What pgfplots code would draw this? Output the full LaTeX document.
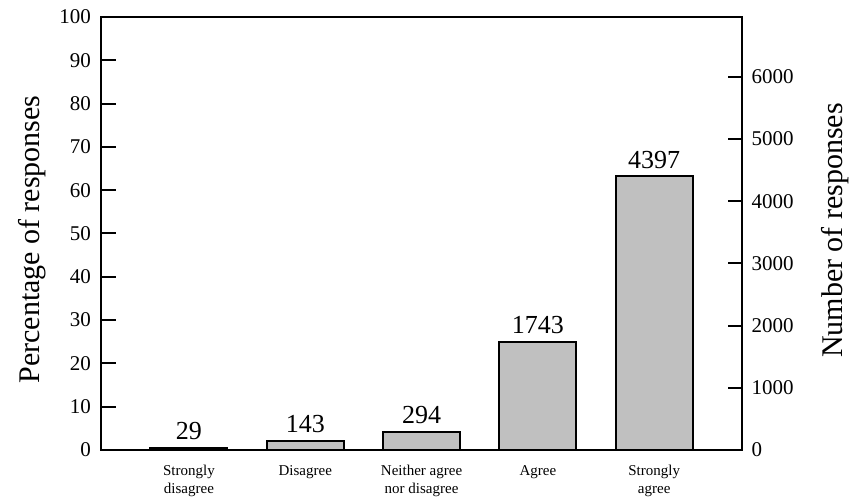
\documentclass[border=0pt]{standalone}
\usepackage{pgfplots}
\pgfplotsset{compat=1.18}
\usepackage{fontspec}
\setmainfont{Liberation Serif}
\definecolor{barfill}{HTML}{C0C0C0}
\pgfplotsset{/pgf/number format/1000 sep={}, /pgf/number format/assume math mode=true}
\begin{document}
\begin{tikzpicture}
\useasboundingbox (-101.5pt,-48pt) rectangle (763.5pt,450pt);
\begin{axis}[
  at={(0pt,0pt)}, anchor=south west,
  scale only axis, width=640.5pt, height=433pt,
  xmin=-0.752, xmax=4.755, ymin=0, ymax=100,
  xtick={0,1,2,3,4},
  xticklabels={Strongly\\disagree, Disagree, Neither agree\\nor disagree, Agree, Strongly\\agree},
  x tick label style={align=center, font=\fontsize{15}{17.5}\selectfont, yshift=-12pt},
  major x tick style={draw=none},
  ytick={0,10,...,100}, ytick pos=left,
  tick align=inside, major tick length=14pt,
  every tick/.style={black, line width=2pt},
  y tick label style={font=\fontsize{21}{23}\selectfont, xshift=-7pt},
  axis line style={line width=2pt},
  ylabel={Percentage of responses},
  every axis y label/.style={at={(rel axis cs:0,0.5)}, xshift=-69.5pt, yshift=-6pt, anchor=center, rotate=90, font=\fontsize{30}{33}\selectfont},
]
\end{axis}
\begin{axis}[
  at={(0pt,0pt)}, anchor=south west,
  scale only axis, width=640.5pt, height=433pt,
  xmin=-0.752, xmax=4.755, ymin=0, ymax=6960,
  axis x line=none, axis y line*=right,
  ytick={0,1000,...,6000},
  tick align=inside, major tick length=14pt,
  every tick/.style={black, line width=2pt},
  y tick label style={font=\fontsize{21}{23}\selectfont, xshift=6pt},
  axis line style={line width=2pt},
  ylabel={Number of responses},
  every axis y label/.style={at={(rel axis cs:1,0.5)}, xshift=93pt, yshift=3pt, anchor=center, rotate=90, font=\fontsize{30}{33}\selectfont},
]
\addplot[ybar, bar width=77pt, fill=barfill, draw=black, line width=2pt,
  nodes near coords, nodes near coords style={font=\fontsize{26}{28}\selectfont, black, inner sep=3pt, yshift=4pt}]
  coordinates {(0,29) (1,143) (2,294) (3,1743) (4,4397)};
\end{axis}
\end{tikzpicture}
\end{document}
